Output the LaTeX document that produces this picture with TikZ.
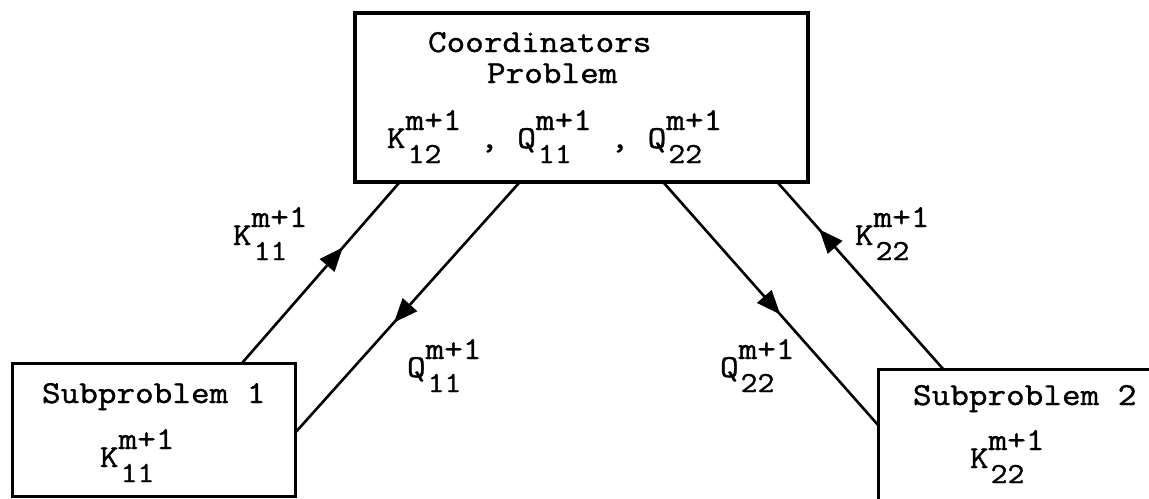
\documentclass[tikz,border=0pt]{standalone}
\usepackage{fontspec}
\newfontfamily\tw{Latin Modern Mono}[FakeStretch=1.13, FakeBold=1.2]
\usetikzlibrary{arrows.meta,decorations.markings,calc}
\newcommand{\sv}[2]{#1\rlap{\raisebox{9pt}{m+1}}\rlap{\raisebox{-7.5pt}{\fontsize{14.5}{15}\selectfont\kern1pt #2}}\hphantom{m+1}}
\begin{document}
\begin{tikzpicture}[x=0.5pt,y=-0.5pt,
  every node/.style={font=\tw\fontsize{16}{20}\selectfont, inner sep=0pt, outer sep=0pt},
  bigbox/.style={draw, line width=2pt, minimum width=226.5pt, minimum height=84.5pt},
  subbox/.style={draw, line width=1.5pt},
  lbl/.style={anchor=base west},
  arrowat/.style={line width=1.3pt, postaction={decorate},
    decoration={markings, mark=at position #1 with {\arrow{Triangle[length=12pt,width=9.5pt]}}}}]
\clip (0,0) rectangle (1149,498);
% boxes
\node[bigbox] (coord) at (581.5,97.5) {};
\node[subbox, minimum width=141.5pt, minimum height=66.5pt] (sub1) at (153.5,429.5) {};
\node[subbox, minimum width=186pt, minimum height=95.5pt] (sub2) at (1064,464.5) {};
% texts in boxes
\node[lbl] (t1) at (428,52) {Coordinators};
\node[lbl] (t2) at (487,83) {Problem};
\node[lbl] (t3) at (387,148) {\sv{K}{12} , \sv{Q}{11} , \sv{Q}{22}};
\node[lbl] (s1) at (42,403) {Subproblem 1};
\node[lbl] (s1k) at (100,467) {\sv{K}{11}};
\node[lbl] (s2) at (913,405) {Subproblem 2};
\node[lbl] (s2k) at (970,468) {\sv{K}{22}};
% connector labels
\node[lbl] (lk11) at (233,245) {\sv{K}{11}};
\node[lbl] (lq11) at (407,377) {\sv{Q}{11}};
\node[lbl] (lq22) at (720,377) {\sv{Q}{22}};
\node[lbl] (lk22) at (855,245) {\sv{K}{22}};
% connectors
\draw[arrowat=0.64] ($(sub1.north west)!0.813!(sub1.north east)$) -- ($(coord.south west)!0.099!(coord.south east)$);
\draw[arrowat=0.56] ($(coord.south west)!0.364!(coord.south east)$) -- ($(sub1.north east)!0.526!(sub1.south east)$);
\draw[arrowat=0.545] ($(coord.south west)!0.68!(coord.south east)$) -- ($(sub2.north west)!0.293!(sub2.south west)$);
\draw[arrowat=0.75] ($(sub2.north west)!0.175!(sub2.north east)$) -- ($(coord.south west)!0.932!(coord.south east)$);
\end{tikzpicture}
\end{document}
